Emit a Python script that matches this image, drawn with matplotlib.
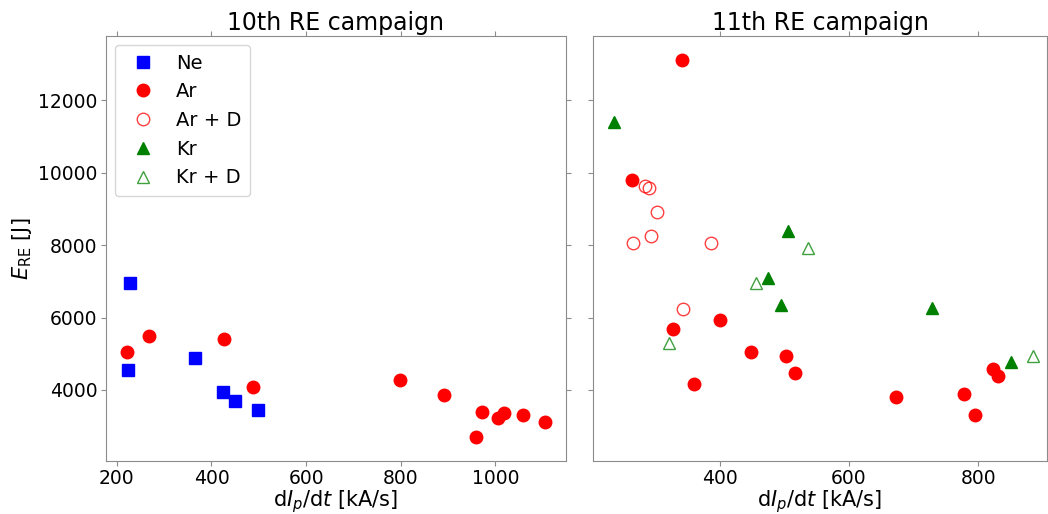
import matplotlib
matplotlib.use("Agg")
import matplotlib.pyplot as plt

# 10th RE campaign
ne10_x = [227, 224, 365, 425, 450, 499]
ne10_y = [6950, 4540, 4880, 3940, 3710, 3440]
ar10_x = [221, 268, 426, 488, 798, 892, 972, 960, 1006, 1018, 1059, 1105]
ar10_y = [5040, 5480, 5400, 4070, 4280, 3860, 3400, 2700, 3220, 3370, 3300, 3120]

# 11th RE campaign
ar11_x = [342, 265, 327, 361, 400, 449, 503, 517, 673, 777, 795, 822, 830]
ar11_y = [13100, 9800, 5690, 4170, 5930, 5040, 4940, 4460, 3800, 3880, 3300, 4590, 4390]
ard11_x = [285, 290, 303, 294, 266, 386, 344]
ard11_y = [9640, 9580, 8920, 8260, 8050, 8070, 6230]
kr11_x = [236, 506, 474, 495, 728, 851]
kr11_y = [11390, 8380, 7100, 6350, 6250, 4760]
krd11_x = [537, 456, 322, 884]
krd11_y = [7910, 6960, 5290, 4930]

titles = ["10th RE campaign", "11th RE campaign"]
xlabel = r"d$I_p$/d$t$ [kA/s]"
ylabel = r"$E_{\rm RE}$ [J]"

plt.rcParams["font.family"] = "DejaVu Sans"
fig = plt.figure(figsize=(10.48, 5.14), dpi=100)
ax1 = fig.add_axes([0.1011, 0.1031, 0.4389, 0.8268])
ax2 = fig.add_axes([0.5658, 0.1031, 0.4332, 0.8268], sharey=ax1)

ms = 9
ax1.plot(ne10_x, ne10_y, "s", color="#0000ff", ms=ms, label="Ne")
ax1.plot(ar10_x, ar10_y, "o", color="#ff0000", ms=ms, label="Ar")
# legend-only entries for the seeded-deuterium and krypton shots
ax1.plot([], [], "o", mfc="none", mec="#ff0000", alpha=0.75, ms=ms, label="Ar + D")
ax1.plot([], [], "^", color="#008000", ms=ms, label="Kr")
ax1.plot([], [], "^", mfc="none", mec="#008000", alpha=0.75, ms=ms, label="Kr + D")

ax2.plot(ar11_x, ar11_y, "o", color="#ff0000", ms=ms)
ax2.plot(ard11_x, ard11_y, "o", mfc="none", mec="#ff0000", alpha=0.75, ms=ms)
ax2.plot(kr11_x, kr11_y, "^", color="#008000", ms=ms)
ax2.plot(krd11_x, krd11_y, "^", mfc="none", mec="#008000", alpha=0.75, ms=ms)

ax1.set_xlim(177, 1149)
ax2.set_xlim(204, 906)
ax1.set_ylim(2040, 13770)
ax1.set_xticks([200, 400, 600, 800, 1000])
ax2.set_xticks([400, 600, 800])
ax1.set_yticks([4000, 6000, 8000, 10000, 12000])

for ax, t in zip((ax1, ax2), titles):
    ax.set_title(t, fontsize=17, pad=4)
    ax.set_xlabel(xlabel, fontsize=15, labelpad=0)
    for s in ax.spines.values():
        s.set_color("0.55")
    ax.tick_params(axis="both", which="both", direction="out", top=True, right=True,
                   color="0.55", labelsize=13.5, pad=2.5)
ax2.tick_params(labelleft=False)
ax1.set_ylabel(ylabel, fontsize=15, labelpad=3)

leg = ax1.legend(loc="upper left", fontsize=14, handletextpad=0.7, borderpad=0.45,
                 labelspacing=0.5, handlelength=2.0, borderaxespad=0.45)

fig.savefig("out.png", dpi=100)
